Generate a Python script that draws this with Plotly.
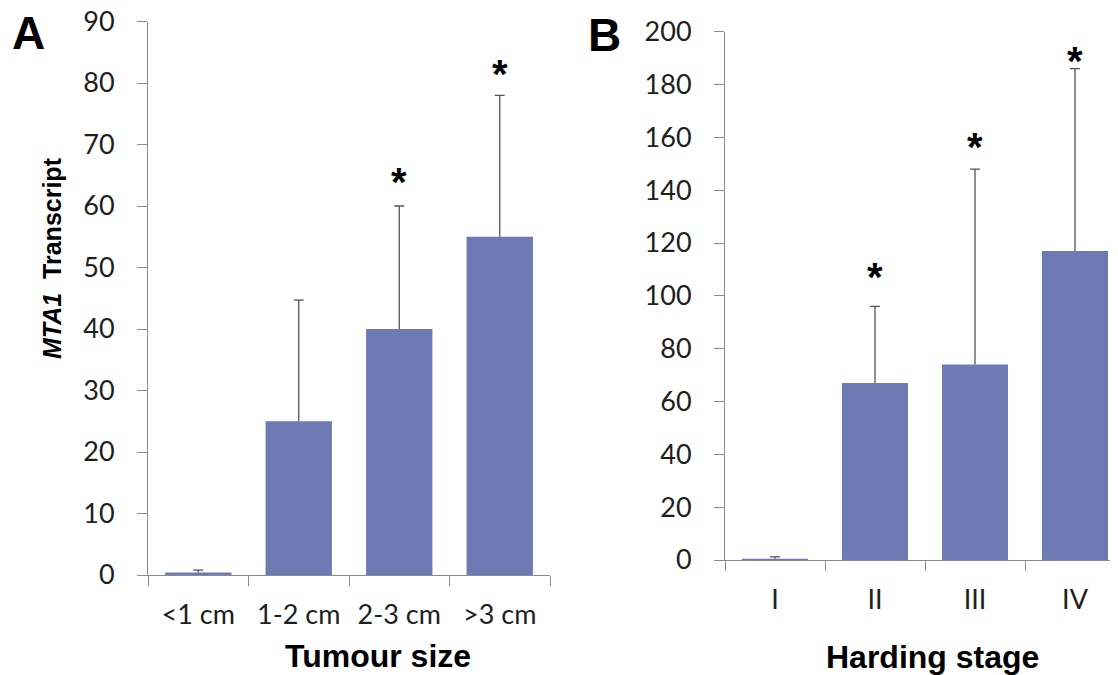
import plotly.graph_objects as go

# The page body adds an 8px margin; draw the figure 8px smaller and map
# reference pixel positions accordingly.
OFF = 8
W, H = 1118 - OFF, 675 - OFF


def px(x):
    return (x - OFF) / W


def py(y):
    return 1 - (y - OFF) / H


# Panel A data
cats_a = ["<1 cm", "1-2 cm", "2-3 cm", ">3 cm"]
vals_a = [0.4, 25.0, 40.0, 55.0]
err_a = [0.4, 19.7, 20.0, 23.0]
star_a_cats = ["2-3 cm", ">3 cm"]
star_a_y = [65.3, 82.9]
yticks_a = [0, 10, 20, 30, 40, 50, 60, 70, 80, 90]

# Panel B data
cats_b = ["I", "II", "III", "IV"]
vals_b = [0.5, 67.0, 74.0, 117.0]
err_b = [0.7, 29.0, 74.0, 69.0]
star_b_cats = ["II", "III", "IV"]
star_b_y = [110.5, 159.7, 192.4]
yticks_b = [0, 20, 40, 60, 80, 100, 120, 140, 160, 180, 200]

BAR = "#6e7ab3"
ERR = "#555555"
AX = "#8c8c8c"
TICKFONT = dict(family="Lato, Open Sans, sans-serif", size=27, color="#1e1e1e")

fig = go.Figure()


def add_panel(cats, vals, errs, xa, ya):
    fig.add_trace(go.Bar(x=cats, y=vals, marker=dict(color=BAR, line=dict(width=0)),
                         width=0.66, xaxis=xa, yaxis=ya, showlegend=False, hoverinfo="skip"))
    lx, ly = [], []
    for c, v, e in zip(cats, vals, errs):
        lx += [c, c, None]
        ly += [v, v + e, None]
    fig.add_trace(go.Scatter(x=lx, y=ly, mode="lines", line=dict(color=ERR, width=1.3),
                             xaxis=xa, yaxis=ya, showlegend=False, hoverinfo="skip"))
    fig.add_trace(go.Scatter(x=cats, y=[v + e for v, e in zip(vals, errs)], mode="markers",
                             marker=dict(symbol="line-ew-open", size=7, color=ERR,
                                         line=dict(color=ERR, width=1.3)),
                             xaxis=xa, yaxis=ya, showlegend=False, hoverinfo="skip"))


add_panel(cats_a, vals_a, err_a, "x", "y")
add_panel(cats_b, vals_b, err_b, "x2", "y2")

ax_common = dict(showline=True, linecolor=AX, linewidth=1, ticks="outside", ticklen=10,
                 tickcolor=AX, tickwidth=1, showgrid=False, zeroline=False, tickfont=TICKFONT,
                 fixedrange=True, automargin=False, ticklabeloverflow="allow")

fig.update_layout(
    template="none",
    width=W, height=H, margin=dict(l=0, r=0, t=0, b=0, autoexpand=False),
    paper_bgcolor="white", plot_bgcolor="white",
    xaxis=dict(domain=[px(148), px(550)], anchor="y", type="category", tickson="boundaries",
               range=[-0.5, 3.5], ticklabelstandoff=16, **ax_common),
    yaxis=dict(domain=[py(575), py(21.5)], anchor="x", range=[0, 90],
               tickvals=yticks_a, ticklabelstandoff=17, **ax_common),
    xaxis2=dict(domain=[px(725), 1.0], anchor="y2", type="category", tickson="boundaries",
                range=[-0.5, -0.5 + (1118 - 725) / 100.0], ticklabelstandoff=16, **ax_common),
    yaxis2=dict(domain=[py(560), py(31.7)], anchor="x2", range=[0, 200],
                tickvals=yticks_b, ticklabelstandoff=17, **ax_common),
)

ann = []
star_font = dict(family="Arial, Liberation Sans", size=40, color="black")
for c, y in zip(star_a_cats, star_a_y):
    ann.append(dict(x=c, y=y, xref="x", yref="y", text="<b>*</b>", showarrow=False, yshift=-9,
                    font=star_font))
for c, y in zip(star_b_cats, star_b_y):
    ann.append(dict(x=c, y=y, xref="x2", yref="y2", text="<b>*</b>", showarrow=False, yshift=-9,
                    font=star_font))

title_font = dict(family="Arial, Liberation Sans", size=32, color="black")
ann += [
    dict(x=px(378), y=py(656), xref="paper", yref="paper", text="<b>Tumour size</b>",
         showarrow=False, font=title_font, xanchor="center", yanchor="middle"),
    dict(x=px(932), y=py(657), xref="paper", yref="paper", text="<b>Harding stage</b>",
         showarrow=False, font=title_font, xanchor="center", yanchor="middle"),
    dict(x=px(52), y=py(258), xref="paper", yref="paper", text="<b><i>MTA1</i>  Transcript</b>",
         showarrow=False, textangle=-90, xanchor="center", yanchor="middle",
         font=dict(family="Arial, Liberation Sans", size=25, color="black")),
    dict(x=px(28), y=py(33), xref="paper", yref="paper", text="<b>A</b>",
         showarrow=False, xanchor="center", yanchor="middle",
         font=dict(family="Arial, Liberation Sans", size=46, color="black")),
    dict(x=px(605), y=py(35), xref="paper", yref="paper", text="<b>B</b>",
         showarrow=False, xanchor="center", yanchor="middle",
         font=dict(family="Arial, Liberation Sans", size=46, color="black")),
]
fig.update_layout(annotations=ann)

fig.write_html("out.html")
